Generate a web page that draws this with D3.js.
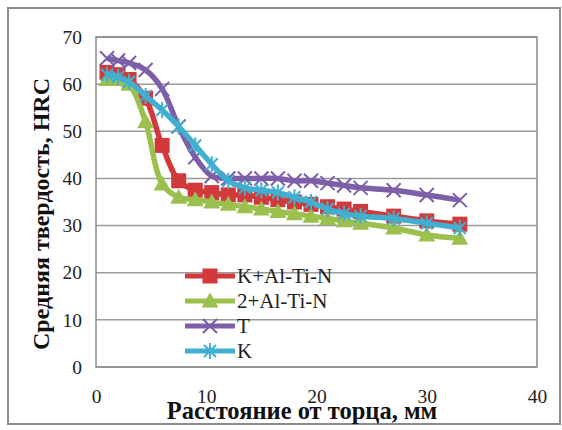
<!DOCTYPE html>
<meta charset="utf-8">
<head>
<script src="https://d3js.org/d3.v7.min.js"></script>
<style>
body { margin: 0; background: #fff; }
</style>
</head>
<body>
<div id="chart"></div>
<script>
// distances from the quenched end, mm
var dist = [1, 2, 3, 4.5, 6, 7.5, 9, 10.5, 12, 13.5, 15, 16.5, 18, 19.5, 21, 22.5, 24, 27, 30, 33];

// hardness HRC per series
var kAlTiN = [62.5, 62, 61, 57, 47, 39.5, 37.5, 37, 36.5, 36.5, 36, 35.5, 35, 34.5, 34, 33.5, 33, 32, 31, 30.3];
var twoAlTiN = [61, 61, 60, 52, 38.8, 36, 35.5, 35, 34.5, 34, 33.5, 33, 32.5, 32, 31.5, 31, 30.5, 29.5, 28, 27.3];
var tSeries = [65.5, 65, 64.5, 63, 59, 51, 44.5, 40.5, 40, 40, 40, 40, 39.5, 39.5, 39, 38.5, 38, 37.5, 36.5, 35.4];
var kSeries = [62, 61.5, 60.5, 57.5, 54.5, 51, 47, 43, 39.5, 38, 37.5, 37, 36, 35, 33.5, 32.5, 32, 31.5, 30.5, 29.5];

var seriesNames = ["K+Al-Ti-N", "2+Al-Ti-N", "T", "K"];
var seriesColors = ["#d2393b", "#9bc04e", "#7d5ea8", "#41afd0"];
var seriesMarkers = ["square", "triangle", "x", "star"];
var seriesValues = [kAlTiN, twoAlTiN, tSeries, kSeries];

var xTicks = [0, 10, 20, 30, 40];
var yTicks = [0, 10, 20, 30, 40, 50, 60, 70];

var FONT = "'Liberation Serif'";

var W = 562, H = 430;
var margin = {top: 37, right: 25, bottom: 63, left: 96};
var width = W - margin.left - margin.right,
    height = H - margin.top - margin.bottom;

var svg = d3.select("#chart").append("svg")
    .attr("width", W).attr("height", H);

// outer chart frame
svg.append("rect")
    .attr("x", 8).attr("y", 8)
    .attr("width", W - 10).attr("height", H - 14)
    .attr("fill", "#fff").attr("stroke", "#8c8c8c").attr("stroke-width", 2);

var g = svg.append("g")
    .attr("transform", "translate(" + margin.left + "," + margin.top + ")");

var x = d3.scaleLinear().domain([0, 40]).range([0, width]);
var y = d3.scaleLinear().domain([0, 70]).range([height, 0]);

// gridlines
g.append("g")
  .selectAll("line")
  .data(yTicks)
  .enter().append("line")
    .attr("x1", 0).attr("x2", width)
    .attr("y1", function(d) { return y(d); })
    .attr("y2", function(d) { return y(d); })
    .attr("stroke", "#9a9a9a").attr("stroke-width", 1.5);

// plot area border
g.append("rect")
    .attr("width", width).attr("height", height)
    .attr("fill", "none").attr("stroke", "#8a8a8a").attr("stroke-width", 1.5);

// axes (labels only)
var yAxis = g.append("g")
    .call(d3.axisLeft(y).tickValues(yTicks).tickSize(0).tickPadding(14))
    .attr("font-family", null).attr("font-size", null);
yAxis.select(".domain").remove();
yAxis.selectAll("text")
    .attr("style", "font-family:" + FONT + ";font-size:19.5px").attr("fill", "#222");

var xAxis = g.append("g")
    .attr("transform", "translate(0," + height + ")")
    .call(d3.axisBottom(x).tickValues(xTicks).tickSize(0).tickPadding(22))
    .attr("font-family", null).attr("font-size", null);
xAxis.select(".domain").remove();
xAxis.selectAll("text")
    .attr("style", "font-family:" + FONT + ";font-size:19.5px").attr("fill", "#222");

// axis titles
svg.append("text")
    .attr("transform", "translate(49,214) rotate(-90)")
    .attr("text-anchor", "middle")
    .attr("style", "font-family:" + FONT + ";font-size:24px;font-weight:bold")
    .attr("fill", "#111")
    .text("Средняя твердость, HRC");

svg.append("text")
    .attr("x", 302).attr("y", 419)
    .attr("text-anchor", "middle")
    .attr("style", "font-family:" + FONT + ";font-size:24.5px;font-weight:bold")
    .attr("fill", "#111")
    .text("Расстояние от торца, мм");

var line = d3.line()
    .curve(d3.curveCatmullRom.alpha(0.5))
    .x(function(d) { return x(d[0]); })
    .y(function(d) { return y(d[1]); });

function drawMarker(sel, type, color) {
  if (type === "square") {
    sel.append("rect").attr("x", -7.5).attr("y", -7.5).attr("width", 15).attr("height", 15)
      .attr("fill", color);
  } else if (type === "triangle") {
    sel.append("path").attr("d", "M0,-8.5L8.5,6.5L-8.5,6.5Z").attr("fill", color);
  } else if (type === "x") {
    sel.append("path").attr("d", "M-7,-7L7,7M-7,7L7,-7")
      .attr("stroke", color).attr("stroke-width", 2).attr("fill", "none");
  } else {
    sel.append("path").attr("d", "M-6,-6L6,6M-6,6L6,-6M0,-8L0,8")
      .attr("stroke", color).attr("stroke-width", 2).attr("fill", "none");
  }
}

seriesValues.forEach(function(vals, i) {
  var pts = dist.map(function(d, j) { return [d, vals[j]]; });
  g.append("path")
    .datum(pts)
    .attr("d", line)
    .attr("fill", "none")
    .attr("stroke", seriesColors[i])
    .attr("stroke-width", 5.5)
    .attr("stroke-linejoin", "round");
  g.selectAll(".m" + i)
    .data(pts)
    .enter().append("g")
      .attr("class", "m" + i)
      .attr("transform", function(d) { return "translate(" + x(d[0]) + "," + y(d[1]) + ")"; })
      .each(function() { drawMarker(d3.select(this), seriesMarkers[i], seriesColors[i]); });
});

// legend
var legend = svg.append("g").attr("transform", "translate(185,276)");
seriesNames.forEach(function(name, i) {
  var row = legend.append("g").attr("transform", "translate(0," + (i * 25) + ")");
  row.append("line").attr("x1", 0).attr("x2", 50)
    .attr("stroke", seriesColors[i]).attr("stroke-width", 5);
  var m = row.append("g").attr("transform", "translate(25,0)");
  drawMarker(m, seriesMarkers[i], seriesColors[i]);
  row.append("text").attr("x", 52).attr("y", 7)
    .attr("style", "font-family:" + FONT + ";font-size:21px")
    .attr("fill", "#222").text(name);
});
</script>
</body>
</html>
